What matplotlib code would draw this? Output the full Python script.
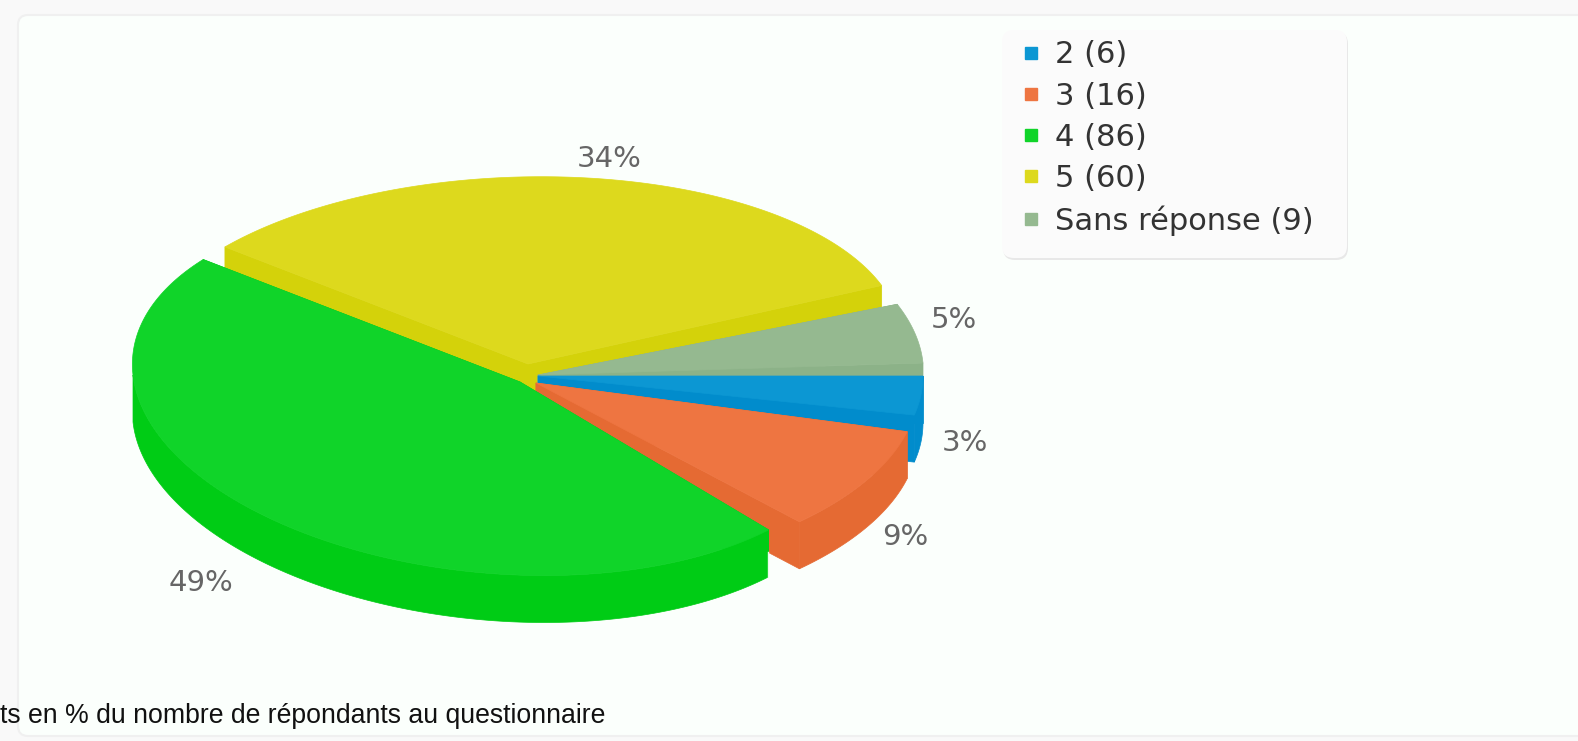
import numpy as np
import matplotlib
matplotlib.use("Agg")
import matplotlib.pyplot as plt
from matplotlib.lines import Line2D
from matplotlib.patches import FancyBboxPatch

categories = ["2", "3", "4", "5", "Sans réponse"]
counts = [6, 16, 86, 60, 9]

top_colors = ["#0C97D3", "#EE7541", "#10D429", "#DDD91D", "#95B990"]
wall_colors = ["#018CCC", "#E56A33", "#00CC15", "#D4D20A", "#8CB288"]

# each slice is exploded a bit differently, values in pixels
# apex x, apex y, cx, cy, rx, ry, kx, ky
slice_shape = [
    (538, 376, 538, 376, 385, 185, 0, 0),
    (536, 383, 533, 393, 385, 183, 10, 0),
    (520, 382, 496, 389, 363, 186, -21, 14),
    (528, 364, 519, 349, 382, 172, 0, -10),
    (538, 375, 538, 363, 385, 187, -20, 0),
]
depth = 47
draw_order = [3, 4, 0, 1, 2]
label_pos = [(965, 443), (905, 537), (201, 583), (609, 159), (954, 320)]

BG = "#FBFFFC"
OUTER = "#F9F9F9"


def arc(shape, a0, a1):
    _, _, cx, cy, rx, ry, kx, ky = shape
    t = np.radians(np.linspace(a0, a1, 200))
    x = cx + rx * np.cos(t) + kx * np.sin(t)
    y = cy - ry * np.sin(t) + ky * np.cos(t)
    return x, y


def draw_slice(ax, shape, a0, a1, top, wall):
    ax0, ay0 = shape[0], shape[1]
    x, y = arc(shape, a0, a1)
    # the two cut faces
    for i in (0, -1):
        ax.fill([ax0, x[i], x[i], ax0], [ay0, y[i], y[i] + depth, ay0 + depth],
                color=wall, lw=0.5)
    # outer wall, only the part that faces the viewer
    lo, hi = max(a1, -180), min(a0, 0)
    if lo < hi:
        wx, wy = arc(shape, hi, lo)
        ax.fill(np.r_[wx, wx[::-1]], np.r_[wy, wy[::-1] + depth], color=wall, lw=0.5)
    ax.fill(np.r_[ax0, x], np.r_[ay0, y], color=top, lw=0.5)


fig = plt.figure(figsize=(15.78, 7.41), dpi=100, facecolor=OUTER)
ax = fig.add_axes([0, 0, 1, 1])
ax.set_xlim(0, 1578)
ax.set_ylim(741, 0)
ax.axis("off")

ax.add_patch(FancyBboxPatch((18, 15), 1700, 721, boxstyle="round,pad=0,rounding_size=10",
                            fc=BG, ec="#F0F0F0", lw=1.5))

total = sum(counts)
edges = -360 * np.cumsum([0] + counts) / total
for i in draw_order:
    draw_slice(ax, slice_shape[i], edges[i], edges[i + 1], top_colors[i], wall_colors[i])

# small white gap at the corner of the green slice
ax.plot([768, 768], [552, 577], color="#E8FBEA", lw=1)

for n, (px, py) in zip(counts, label_pos):
    ax.text(px, py, f"{round(100 * n / total)}%", color="#666666", fontsize=21,
            family="DejaVu Sans", ha="center", va="center")

ax.add_patch(FancyBboxPatch((1003, 32), 345, 228, boxstyle="round,pad=0,rounding_size=12",
                            fc="#E8E8E8", ec="none"))
ax.add_patch(FancyBboxPatch((1002, 30), 345, 228, boxstyle="round,pad=0,rounding_size=12",
                            fc="#FBFBFB", ec="none"))

handles = [Line2D([], [], ls="", marker="s", ms=8.5, color=c) for c in top_colors]
labels = [f"{c} ({n})" for c, n in zip(categories, counts)]
ax.legend(handles, labels, loc="upper left", bbox_to_anchor=(994 / 1578, 1 - 19 / 741),
          frameon=False, labelspacing=0.4, handletextpad=0.3,
          handlelength=1.0, borderpad=0.2, labelcolor="#333333",
          prop={"family": "DejaVu Sans", "size": 22})

ax.text(0, 723, "ts en % du nombre de répondants au questionnaire", color="#111111",
        fontsize=19.2, family="Liberation Sans", ha="left", va="baseline")

fig.savefig("out.png", dpi=100, facecolor=fig.get_facecolor())
